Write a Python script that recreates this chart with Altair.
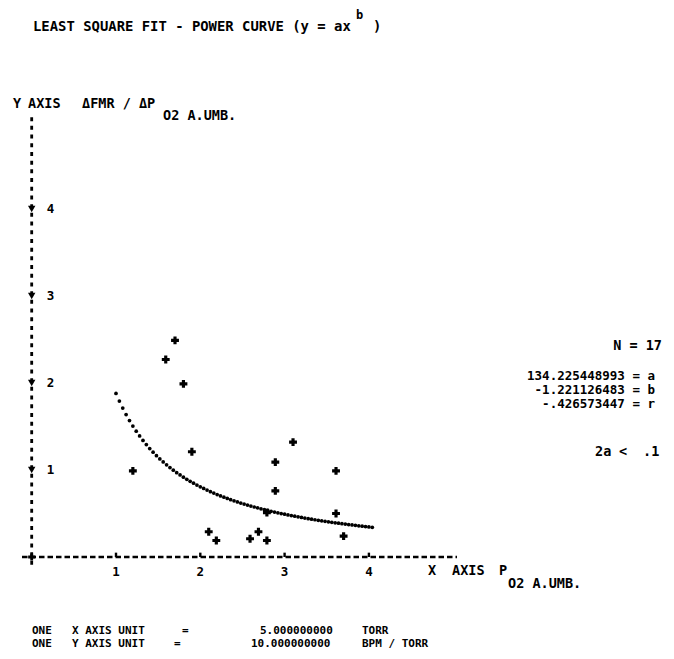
import altair as alt
import pandas as pd

# ---- chart values ----
pts_x = [1.20, 1.59, 1.70, 1.80, 1.90, 2.10, 2.19, 2.59, 2.69, 2.79, 2.79, 2.89, 2.89, 3.10, 3.61, 3.61, 3.70]
pts_y = [0.99, 2.27, 2.49, 1.99, 1.21, 0.29, 0.19, 0.21, 0.29, 0.19, 0.51, 0.76, 1.09, 1.32, 0.99, 0.50, 0.24]
x_ticks = [1, 2, 3, 4]
y_ticks = [1, 2, 3, 4]
fit_a = 134.225448993
fit_b = -1.221126483
fit_r = -0.426573447
n_points = 17
x_unit = 5.0     # torr per x-axis unit
y_unit = 10.0    # BPM/torr per y-axis unit

# ---- layout ----
W, H = 656, 643
X0_PX, X_PPU = 31.7 - 8, 84.3
Y0_PX, Y_PPU = 557 - 8, 87.0
XMIN, XMAX = -X0_PX / X_PPU, (W - X0_PX) / X_PPU
YMAX, YMIN = Y0_PX / Y_PPU, (Y0_PX - H) / Y_PPU
FONT = "DejaVu Sans Mono"
INK = "#000000"

xs = alt.Scale(domain=[XMIN, XMAX], nice=False, zero=False)
ys = alt.Scale(domain=[YMIN, YMAX], nice=False, zero=False)


def X(f):
    return alt.X(f, type="quantitative", scale=xs, axis=None)


def Y(f):
    return alt.Y(f, type="quantitative", scale=ys, axis=None)


def label(text, px, py, align="left", size=13.5):
    return alt.Chart(pd.DataFrame({"t": [text]})).mark_text(
        align=align, baseline="middle", font=FONT, fontWeight="bold",
        fontSize=size, color=INK
    ).encode(x=alt.value(px - 8), y=alt.value(py - 8), text="t:N")


pts = pd.DataFrame({"x": pts_x, "y": pts_y})
yt = pd.DataFrame({"v": y_ticks, "t": [str(v) for v in y_ticks]})
xt = pd.DataFrame({"v": x_ticks, "t": [str(v) for v in x_ticks], "z": [0] * 4, "z2": [0.05] * 4})

# axes
y_axis = alt.Chart(pd.DataFrame({"x": [0], "a": [-0.09], "b": [5.09]})).mark_rule(
    color=INK, strokeWidth=2.8, strokeDash=[4, 4.7]
).encode(x=X("x"), y=Y("a"), y2="b")
x_axis = alt.Chart(pd.DataFrame({"y": [0], "a": [-0.115], "b": [5.045]})).mark_rule(
    color=INK, strokeWidth=2.4, strokeDash=[5.5, 3]
).encode(y=Y("y"), x=X("a"), x2="b")
y_marks = alt.Chart(yt).mark_point(shape="triangle-down", filled=True, size=55, color=INK, opacity=1).encode(
    x=alt.value(X0_PX), y=Y("v"))
origin = alt.Chart(pd.DataFrame({"x": [0], "y": [0]})).mark_point(
    shape="cross", filled=True, size=50, color=INK, opacity=1).encode(x=X("x"), y=Y("y"))
x_marks = alt.Chart(xt).mark_rule(color=INK, strokeWidth=2.4).encode(x=X("v"), y=Y("z"), y2="z2")
y_labels = alt.Chart(yt).mark_text(font=FONT, fontWeight="bold", fontSize=12.5, color=INK, align="center",
                                   baseline="middle").encode(x=alt.value(50.5 - 8), y=Y("v"), text="t:N")
x_labels = alt.Chart(xt).mark_text(font=FONT, fontWeight="bold", fontSize=12.5, color=INK, align="center",
                                   baseline="middle").encode(x=X("v"), y=alt.value(572 - 8), text="t:N")

# fitted power curve y = a x^b (in real units), drawn in plot units
curve = alt.Chart(alt.sequence(1.0, 4.07, 0.04, as_="x")).transform_calculate(
    y=f"{fit_a} * pow({x_unit} * datum.x, {fit_b}) / {y_unit}"
).mark_point(filled=True, size=14, color=INK, opacity=1, shape="circle").encode(x=X("x"), y=Y("y"))

points = alt.Chart(pts).mark_point(shape="cross", filled=True, size=62, color=INK, opacity=1).encode(
    x=X("x"), y=Y("y"))

r_txt = f"{fit_r:.9f}".replace("-0.", "-.")
texts = [
    label("LEAST SQUARE FIT - POWER CURVE (y = ax", 33, 27, size=13.9),
    label(")", 373, 27, size=13.9),
    label("b", 356, 15, size=12),
    label("Y", 13, 104),
    label("AXIS", 28, 104),
    label("\u0394FMR / \u0394P", 82, 104),
    label("O2 A.UMB.", 163, 116),
    label("X", 428, 571),
    label("AXIS", 452, 571),
    label("P", 499, 571),
    label("O2 A.UMB.", 508, 584),
    label(f"N = {n_points}", 662, 346, align="right"),
    label(f"{fit_a:.9f} = a", 655, 376, align="right", size=12.5),
    label(f"{fit_b:.9f} = b", 655, 390, align="right", size=12.5),
    label(f"{r_txt} = r", 655, 404, align="right", size=12.5),
    label("2a", 595, 452),
    label("<", 619, 452),
    label(".1", 643, 452),
    label("ONE", 32, 631, size=11),
    label("X AXIS UNIT", 72, 631, size=11),
    label("=", 182, 631, size=11),
    label(f"{x_unit:.9f}", 260, 631, size=11),
    label("TORR", 362, 631, size=11),
    label("ONE", 32, 644, size=11),
    label("Y AXIS UNIT", 72, 644, size=11),
    label("=", 174, 644, size=11),
    label(f"{y_unit:.9f}", 251, 644, size=11),
    label("BPM / TORR", 362, 644, size=11),
]

chart = alt.layer(
    x_axis, y_axis, x_marks, y_marks, origin, y_labels, x_labels, curve, points, *texts
).properties(
    width=W, height=H, padding=0, autosize=alt.AutoSizeParams(type="none"), background="white"
).configure_view(strokeWidth=0)

chart.save("out.html", embed_options={"renderer": "svg", "actions": False})
